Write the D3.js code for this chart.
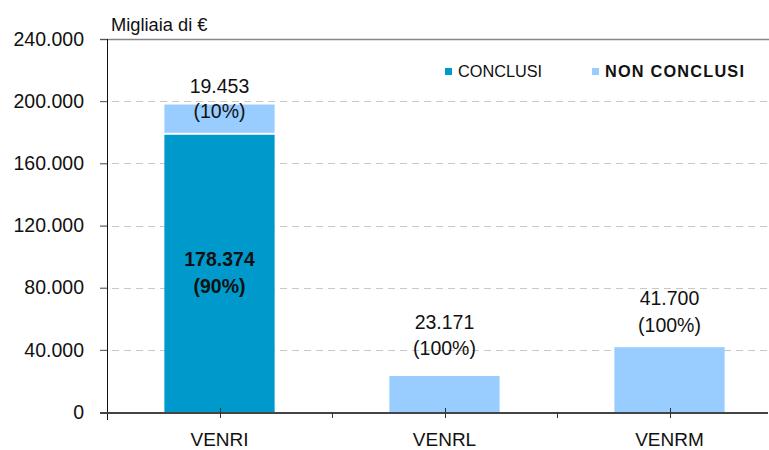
<!DOCTYPE html>
<html><head><meta charset="utf-8">
<script src="https://cdn.jsdelivr.net/npm/d3@7"></script>
<style>body{margin:0;background:#fff}svg{display:block;font-family:"Liberation Sans",Arial,sans-serif}</style>
</head><body><svg id="c" width="769" height="450"></svg>
<script>
const categories = ["VENRI", "VENRL", "VENRM"];
const conclusi = [178374, 0, 0];
const nonConclusi = [19453, 23171, 41700];
const concLabels = ["178.374", "", ""];
const concPct = ["(90%)", "", ""];
const nonLabels = ["19.453", "23.171", "41.700"];
const nonPct = ["(10%)", "(100%)", "(100%)"];
const yTicks = [0, 40000, 80000, 120000, 160000, 200000, 240000];
const yTickLabels = ["0", "40.000", "80.000", "120.000", "160.000", "200.000", "240.000"];
const seriesNames = ["CONCLUSI", "NON CONCLUSI"];
const colors = ["#0099CC", "#99CCFF"];

const svg = d3.select("#c");
const x0 = 107, x1 = 782, yTop = 39, yBot = 412;
const x = d3.scaleBand().domain(categories).range([x0, x1]).paddingInner(0.51).paddingOuter(0.255);
const y = d3.scaleLinear().domain([0, 240000]).range([yBot, yTop]);

// gridlines
svg.append("g").selectAll("line").data(yTicks.filter(t => t > 0)).join("line")
  .attr("x1", 100).attr("x2", 769)
  .attr("y1", d => Math.round(y(d)) + 0.5).attr("y2", d => Math.round(y(d)) + 0.5)
  .attr("stroke", d => d === 240000 ? "#888" : "#c8c8c8")
  .attr("stroke-width", d => d === 240000 ? 1.5 : 1)
  .attr("stroke-dasharray", d => d === 240000 ? null : "7,5");

// bars
const bw = x.bandwidth();
svg.append("g").selectAll("rect").data(categories).join("rect")
  .filter((d, i) => conclusi[i] > 0)
  .attr("x", d => x(d)).attr("width", bw)
  .attr("y", (d) => y(conclusi[categories.indexOf(d)]))
  .attr("height", d => yBot - y(conclusi[categories.indexOf(d)]))
  .attr("fill", colors[0]);
svg.append("g").selectAll("rect").data(categories).join("rect")
  .attr("x", d => x(d)).attr("width", bw)
  .attr("y", (d, i) => y(conclusi[i] + nonConclusi[i]))
  .attr("height", (d, i) => y(conclusi[i]) - y(conclusi[i] + nonConclusi[i]) - (conclusi[i] > 0 ? 2 : 0))
  .attr("fill", colors[1]);

// y axis
const yAxis = d3.axisLeft(y).tickValues(yTicks).tickFormat((d, i) => yTickLabels[i]).tickSize(7).tickPadding(16);
const gy = svg.append("g").attr("transform", `translate(${x0},0)`).call(yAxis);
gy.select(".domain").remove();
gy.selectAll(".tick line").attr("stroke", "#555");
gy.selectAll("text").attr("font-size", 19.5).attr("fill", "#111");
svg.append("line").attr("x1", x0 + 0.5).attr("x2", x0 + 0.5).attr("y1", yTop).attr("y2", 420).attr("stroke", "#111").attr("stroke-width", 1);

// x axis
svg.append("line").attr("x1", 100).attr("x2", 768).attr("y1", yBot + 1).attr("y2", yBot + 1).attr("stroke", "#444").attr("stroke-width", 2);
svg.append("g").selectAll("line").data(categories).join("line")
  .attr("x1", d => Math.round(x(d) + bw / 2) + 0.5).attr("x2", d => Math.round(x(d) + bw / 2) + 0.5)
  .attr("y1", yBot - 4).attr("y2", yBot + 6).attr("stroke", "#333");
svg.append("g").selectAll("line").data(categories.slice(1)).join("line")
  .attr("x1", d => Math.round(x(d) - x.step() * x.paddingInner() / 2) + 0.5)
  .attr("x2", d => Math.round(x(d) - x.step() * x.paddingInner() / 2) + 0.5)
  .attr("y1", yBot).attr("y2", yBot + 6).attr("stroke", "#333");
svg.append("g").selectAll("text").data(categories).join("text")
  .attr("x", d => x(d) + bw / 2).attr("y", 446).attr("text-anchor", "middle")
  .attr("font-size", 19).attr("fill", "#111").text(d => d);

// value labels (offsets in px relative to bar top)
const labOff = [[-11.5, 13], [-47, -21], [-42, -15]];
const lab = svg.append("g").attr("text-anchor", "middle").attr("font-size", 19.5).attr("fill", "#111");
categories.forEach((c, i) => {
  const cx = x(c) + bw / 2;
  const top = y(conclusi[i] + nonConclusi[i]);
  lab.append("text").attr("x", cx).attr("y", top + labOff[i][0]).text(nonLabels[i]);
  lab.append("text").attr("x", cx).attr("y", top + labOff[i][1]).text(nonPct[i]);
  if (conclusi[i] > 0) {
    const mid = y(conclusi[i] / 2);
    lab.append("text").attr("x", cx).attr("y", mid - 7).attr("font-weight", "bold").text(concLabels[i]);
    lab.append("text").attr("x", cx).attr("y", mid + 19.5).attr("font-weight", "bold").text(concPct[i]);
  }
});

// title
svg.append("text").attr("x", 111).attr("y", 31).attr("font-size", 18.3).attr("fill", "#111").text("Migliaia di €");

// legend
const lg = svg.append("g");
const lx = [445, 592];
seriesNames.forEach((n, i) => {
  lg.append("rect").attr("x", lx[i]).attr("y", 68).attr("width", 7).attr("height", 7).attr("fill", colors[i]);
  lg.append("text").attr("x", lx[i] + 13).attr("y", 77).attr("font-size", 16.3).attr("fill", "#111")
    .attr("font-weight", i === 1 ? "bold" : "normal")
    .attr("letter-spacing", i === 1 ? 1.2 : 0).text(n);
});
</script></body></html>
